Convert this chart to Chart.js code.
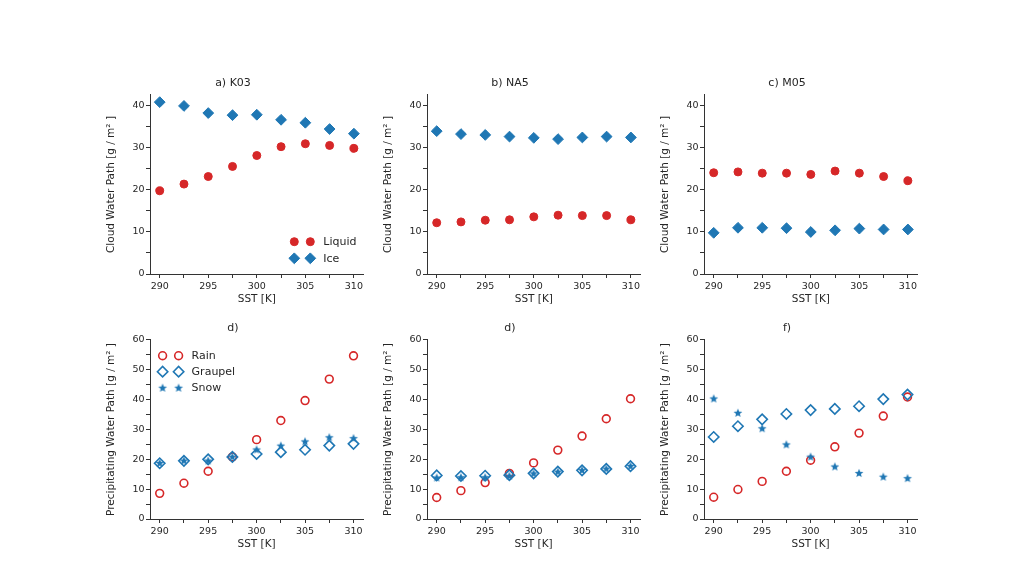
<!DOCTYPE html>
<html>
<head>
<meta charset="utf-8">
<script src="https://cdn.jsdelivr.net/npm/chart.js@4.4.1/dist/chart.umd.min.js"></script>
<style>
    body { margin: 0; background: #fff; width: 1024px; height: 576px; position: relative; overflow: hidden; }
    canvas { position: absolute; }
</style>
</head>
<body>
<canvas id="c0" width="270" height="241"></canvas>
<canvas id="c1" width="270" height="241"></canvas>
<canvas id="c2" width="270" height="241"></canvas>
<canvas id="c3" width="270" height="241"></canvas>
<canvas id="c4" width="270" height="241"></canvas>
<canvas id="c5" width="270" height="241"></canvas>
<script>
// SST values (x axis) and tick positions
const sst = [290, 292.5, 295, 297.5, 300, 302.5, 305, 307.5, 310];
const sstTicks = [290, 292.5, 295, 297.5, 300, 302.5, 305, 307.5, 310];
const cloudTicks = [0, 5, 10, 15, 20, 25, 30, 35, 40];
const precipTicks = [0, 5, 10, 15, 20, 25, 30, 35, 40, 45, 50, 55, 60];

const panelTitles = ['a) K03', 'b) NA5', 'c) M05', 'd)', 'd)', 'f)'];

// Cloud water path [g/m2]
const k03Liquid = [19.8, 21.4, 23.2, 25.6, 28.2, 30.3, 31.0, 30.6, 29.9];
const k03Ice = [40.9, 40.0, 38.3, 37.8, 37.9, 36.7, 36.0, 34.5, 33.4];
const na5Liquid = [12.2, 12.4, 12.8, 12.9, 13.6, 14.0, 13.9, 13.9, 12.9];
const na5Ice = [34.0, 33.3, 33.1, 32.7, 32.4, 32.1, 32.5, 32.7, 32.5];
const m05Liquid = [24.1, 24.3, 24.0, 24.0, 23.7, 24.5, 24.0, 23.2, 22.2];
const m05Ice = [9.8, 11.0, 11.0, 10.9, 10.0, 10.4, 10.8, 10.6, 10.6];

// Precipitating water path [g/m2]
const k03Rain = [8.6, 12.0, 16.0, 20.8, 26.6, 33.0, 39.7, 46.9, 54.7];
const k03Graupel = [18.7, 19.5, 20.0, 20.8, 21.8, 22.4, 23.2, 24.6, 25.2];
const k03Snow = [18.8, 19.6, 19.6, 20.9, 23.3, 24.6, 26.0, 27.4, 27.1];
const na5Rain = [7.2, 9.5, 12.2, 15.3, 18.8, 23.1, 27.8, 33.6, 40.3];
const na5Graupel = [14.6, 14.4, 14.5, 14.7, 15.3, 15.9, 16.3, 16.8, 17.7];
const na5Snow = [13.9, 14.0, 14.0, 14.5, 15.3, 15.9, 16.4, 16.9, 17.8];
const m05Rain = [7.3, 9.9, 12.6, 16.0, 19.7, 24.2, 28.8, 34.5, 40.9];
const m05Graupel = [27.5, 31.1, 33.4, 35.2, 36.5, 36.9, 37.8, 40.2, 41.7];
const m05Snow = [40.4, 35.6, 30.4, 25.0, 20.9, 17.6, 15.4, 14.2, 13.7];

const RED = '#d62728';
const BLUE = '#1f77b4';
const TEXT = '#262626';
const FONT = '"DejaVu Sans", sans-serif';

// axis positions on the page
const colLeft = [150, 427, 704];
const rowTop = [95, 340];
const AXIS_W = 216, AXIS_H = 179;
const Y_W = 50, TITLE_H = 30, X_H = 32, PAD_R = 4;

// filled star marker drawn once, used as point image
const starImg = document.createElement('canvas');
starImg.width = 14; starImg.height = 14;
(function () {
    const c = starImg.getContext('2d');
    c.fillStyle = BLUE;
    c.beginPath();
    for (let i = 0; i < 10; i++) {
        const r = i % 2 === 0 ? 4.6 : 2.0;
        const a = -Math.PI / 2 + i * Math.PI / 5;
        const px = 7 + r * Math.cos(a), py = 7.4 + r * Math.sin(a);
        if (i === 0) c.moveTo(px, py); else c.lineTo(px, py);
    }
    c.closePath();
    c.fill();
})();

const toPoints = (vals) => vals.map((v, i) => ({ x: sst[i], y: v }));

// legend with two markers per entry, drawn inside the plot area
const pairLegend = {
    id: 'pairLegend',
    afterDatasetsDraw(chart, args, opts) {
        if (!opts || !opts.items) return;
        const { ctx, chartArea } = chart;
        ctx.save();
        opts.items.forEach((item, i) => {
            const y = chartArea.top + opts.y + i * opts.gap;
            [opts.x, opts.x + 16].forEach(x => {
                const px = chartArea.left + x;
                if (item.style === 'star') {
                    ctx.drawImage(starImg, px - 7, y - 7);
                } else {
                    ctx.fillStyle = item.fill;
                    ctx.strokeStyle = item.stroke;
                    ctx.lineWidth = item.lw;
                    Chart.helpers.drawPoint(ctx, { pointStyle: item.style, radius: item.radius, rotation: 0, borderWidth: item.lw }, px, y);
                }
            });
            ctx.fillStyle = TEXT;
            ctx.font = '11px ' + FONT;
            ctx.textBaseline = 'middle';
            ctx.textAlign = 'left';
            ctx.fillText(item.label, chartArea.left + opts.x + 29, y + 0.5);
        });
        ctx.restore();
    }
};

const cloudLegend = [
    { label: 'Liquid', style: 'circle', radius: 4, fill: RED, stroke: RED, lw: 1 },
    { label: 'Ice', style: 'rectRot', radius: 5.4, fill: BLUE, stroke: BLUE, lw: 1 }
];
const precipLegend = [
    { label: 'Rain', style: 'circle', radius: 3.9, fill: 'rgba(0,0,0,0)', stroke: RED, lw: 1.6 },
    { label: 'Graupel', style: 'rectRot', radius: 5.2, fill: 'rgba(0,0,0,0)', stroke: BLUE, lw: 1.6 },
    { label: 'Snow', style: 'star' }
];

const cloudSets = (liquid, ice) => [
    { label: 'Liquid', data: toPoints(liquid), pointStyle: 'circle', pointRadius: 4, backgroundColor: RED, borderColor: RED, borderWidth: 1, order: 1 },
    { label: 'Ice', data: toPoints(ice), pointStyle: 'rectRot', pointRadius: 5.4, backgroundColor: BLUE, borderColor: BLUE, borderWidth: 1, order: 0 }
];
const precipSets = (rain, graupel, snow) => [
    { label: 'Rain', data: toPoints(rain), pointStyle: 'circle', pointRadius: 3.9, backgroundColor: 'rgba(0,0,0,0)', borderColor: RED, borderWidth: 1.6, order: 2 },
    { label: 'Graupel', data: toPoints(graupel), pointStyle: 'rectRot', pointRadius: 5.2, backgroundColor: 'rgba(0,0,0,0)', borderColor: BLUE, borderWidth: 1.6, order: 1 },
    { label: 'Snow', data: toPoints(snow), pointStyle: starImg, pointRadius: 4.5, backgroundColor: BLUE, borderColor: BLUE, order: 0 }
];

const panels = [
    { datasets: cloudSets(k03Liquid, k03Ice), cloud: true, legend: { items: cloudLegend, x: 144.3, y: 146.7, gap: 16.6 } },
    { datasets: cloudSets(na5Liquid, na5Ice), cloud: true },
    { datasets: cloudSets(m05Liquid, m05Ice), cloud: true },
    { datasets: precipSets(k03Rain, k03Graupel, k03Snow), cloud: false, legend: { items: precipLegend, x: 12.6, y: 15.7, gap: 16 } },
    { datasets: precipSets(na5Rain, na5Graupel, na5Snow), cloud: false },
    { datasets: precipSets(m05Rain, m05Graupel, m05Snow), cloud: false }
];

panels.forEach((p, idx) => {
    const canvas = document.getElementById('c' + idx);
    const col = idx % 3, row = Math.floor(idx / 3);
    canvas.style.left = (colLeft[col] - Y_W) + 'px';
    canvas.style.top = (rowTop[row] - TITLE_H) + 'px';
    canvas.width = Y_W + AXIS_W + PAD_R;
    canvas.height = TITLE_H + AXIS_H + X_H;

    const yTicks = p.cloud ? cloudTicks : precipTicks;

    new Chart(canvas.getContext('2d'), {
        type: 'scatter',
        data: { datasets: p.datasets.map(d => Object.assign({ clip: false, pointHoverRadius: d.pointRadius }, d)) },
        plugins: [pairLegend],
        options: {
            responsive: false,
            animation: false,
            layout: { padding: { left: 0, right: PAD_R, top: 0, bottom: 0 } },
            plugins: {
                legend: { display: false },
                tooltip: { enabled: false },
                title: {
                    display: true,
                    text: panelTitles[idx],
                    color: TEXT,
                    font: { family: FONT, size: 11, weight: 'normal' },
                    padding: { top: 11.7, bottom: 5.1 }
                },
                pairLegend: p.legend || {}
            },
            scales: {
                x: {
                    type: 'linear',
                    min: 289,
                    max: 311,
                    afterBuildTicks: s => { s.ticks = sstTicks.map(v => ({ value: v })); },
                    afterFit: s => { s.height = X_H; },
                    border: { color: '#333', width: 1 },
                    grid: { drawOnChartArea: false, drawTicks: true, tickLength: 4, color: '#333' },
                    ticks: {
                        callback: v => (v % 5 === 0 ? v : ''),
                        color: TEXT, font: { family: FONT, size: 9.5 },
                        padding: 3, maxRotation: 0, autoSkip: false
                    },
                    title: { display: true, text: 'SST [K]', color: TEXT, font: { family: FONT, size: 10.5 }, padding: 0 }
                },
                y: {
                    min: 0,
                    max: p.cloud ? 42.6 : 60,
                    afterBuildTicks: s => { s.ticks = yTicks.map(v => ({ value: v })); },
                    afterFit: s => { s.width = Y_W; },
                    border: { color: '#333', width: 1 },
                    grid: { drawOnChartArea: false, drawTicks: true, tickLength: 4, color: '#333' },
                    ticks: {
                        callback: v => (v % 10 === 0 ? v : ''),
                        color: TEXT, font: { family: FONT, size: 9.5 },
                        padding: 1.5, autoSkip: false
                    },
                    title: {
                        display: true,
                        text: p.cloud ? 'Cloud Water Path [g / m² ]' : 'Precipitating Water Path [g / m² ]',
                        color: TEXT, font: { family: FONT, size: 10.5 },
                        padding: { top: 5, bottom: 0 }
                    }
                }
            }
        }
    });
});
</script>
</body>
</html>
